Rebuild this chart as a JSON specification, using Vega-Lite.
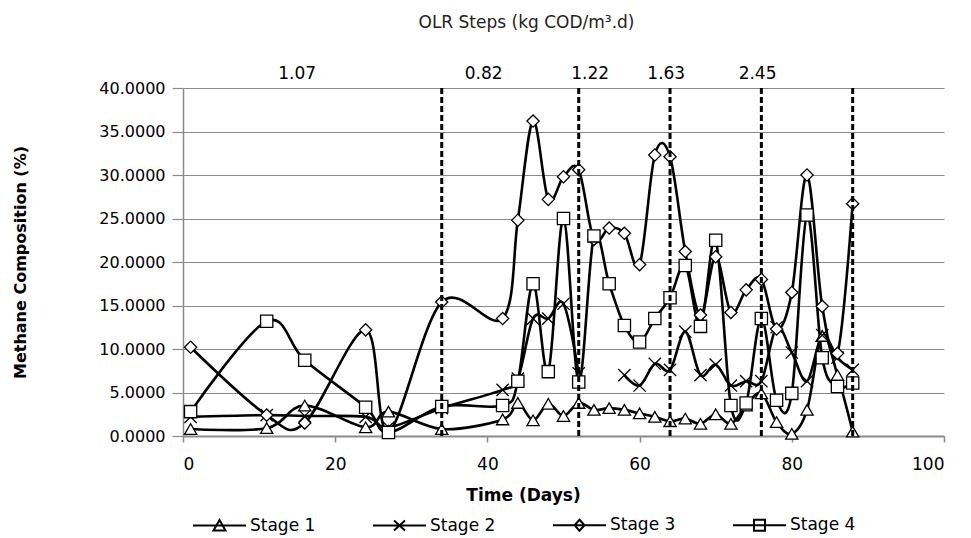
{
  "$schema": "https://vega.github.io/schema/vega-lite/v6.json",
  "width": 761,
  "height": 348,
  "autosize": "none",
  "padding": {"left": 183, "top": 88, "right": 27, "bottom": 102},
  "background": "white",
  "title": {
    "text": "OLR Steps (kg COD/m³.d)",
    "font": "DejaVu Sans",
    "fontSize": 17,
    "fontWeight": "normal",
    "color": "#222222",
    "anchor": "middle",
    "dx": -37,
    "offset": 25,
    "baseline": "middle"
  },
  "config": {"view": {"stroke": null}, "font": "DejaVu Sans"},
  "resolve": {"scale": {"shape": "independent"}, "legend": {"shape": "independent"}},
  "datasets": {
    "olrLines": [{"day": 34}, {"day": 52}, {"day": 64}, {"day": 76}, {"day": 88}],
    "olrLabels": [
      {"day": 15, "label": "1.07"},
      {"day": 39.5, "label": "0.82"},
      {"day": 53.5, "label": "1.22"},
      {"day": 63.5, "label": "1.63"},
      {"day": 75.5, "label": "2.45"}
    ],
    "methane": [
      {"stage": "Stage 1", "day": 1, "v": 0.8}, {"stage": "Stage 1", "day": 11, "v": 0.9}, {"stage": "Stage 1", "day": 16, "v": 3.5}, {"stage": "Stage 1", "day": 24, "v": 1.0}, {"stage": "Stage 1", "day": 27, "v": 2.8}, {"stage": "Stage 1", "day": 34, "v": 0.8}, {"stage": "Stage 1", "day": 42, "v": 1.9}, {"stage": "Stage 1", "day": 44, "v": 3.8}, {"stage": "Stage 1", "day": 46, "v": 1.8}, {"stage": "Stage 1", "day": 48, "v": 3.7}, {"stage": "Stage 1", "day": 50, "v": 2.3}, {"stage": "Stage 1", "day": 52, "v": 3.8}, {"stage": "Stage 1", "day": 54, "v": 3.0}, {"stage": "Stage 1", "day": 56, "v": 3.2}, {"stage": "Stage 1", "day": 58, "v": 3.0}, {"stage": "Stage 1", "day": 60, "v": 2.6}, {"stage": "Stage 1", "day": 62, "v": 2.2}, {"stage": "Stage 1", "day": 64, "v": 1.7}, {"stage": "Stage 1", "day": 66, "v": 2.0}, {"stage": "Stage 1", "day": 68, "v": 1.4}, {"stage": "Stage 1", "day": 70, "v": 2.5}, {"stage": "Stage 1", "day": 72, "v": 1.4}, {"stage": "Stage 1", "day": 74, "v": 3.5}, {"stage": "Stage 1", "day": 76, "v": 4.9}, {"stage": "Stage 1", "day": 78, "v": 1.6}, {"stage": "Stage 1", "day": 80, "v": 0.25}, {"stage": "Stage 1", "day": 82, "v": 3.0}, {"stage": "Stage 1", "day": 84, "v": 11.5}, {"stage": "Stage 1", "day": 86, "v": 7.0}, {"stage": "Stage 1", "day": 88, "v": 0.5},
      {"stage": "Stage 2", "day": 1, "v": 2.2}, {"stage": "Stage 2", "day": 11, "v": 2.4}, {"stage": "Stage 2", "day": 16, "v": 2.3}, {"stage": "Stage 2", "day": 24, "v": 2.2}, {"stage": "Stage 2", "day": 27, "v": 1.0}, {"stage": "Stage 2", "day": 34, "v": 3.2}, {"stage": "Stage 2", "day": 42, "v": 5.3}, {"stage": "Stage 2", "day": 44, "v": 6.6}, {"stage": "Stage 2", "day": 46, "v": 13.5}, {"stage": "Stage 2", "day": 48, "v": 13.5}, {"stage": "Stage 2", "day": 50, "v": 15.2}, {"stage": "Stage 2", "day": 52, "v": 7.2}, {"stage": "Stage 2", "day": 54, "v": null}, {"stage": "Stage 2", "day": 56, "v": null}, {"stage": "Stage 2", "day": 58, "v": 7.0}, {"stage": "Stage 2", "day": 60, "v": 5.8}, {"stage": "Stage 2", "day": 62, "v": 8.3}, {"stage": "Stage 2", "day": 64, "v": 7.6}, {"stage": "Stage 2", "day": 66, "v": 12.0}, {"stage": "Stage 2", "day": 68, "v": 7.0}, {"stage": "Stage 2", "day": 70, "v": 8.2}, {"stage": "Stage 2", "day": 72, "v": 5.8}, {"stage": "Stage 2", "day": 74, "v": 6.3}, {"stage": "Stage 2", "day": 76, "v": 6.3}, {"stage": "Stage 2", "day": 78, "v": 12.5}, {"stage": "Stage 2", "day": 80, "v": 9.6}, {"stage": "Stage 2", "day": 82, "v": 6.3}, {"stage": "Stage 2", "day": 84, "v": 11.6}, {"stage": "Stage 2", "day": 86, "v": 9.0}, {"stage": "Stage 2", "day": 88, "v": 7.6},
      {"stage": "Stage 3", "day": 1, "v": 10.2}, {"stage": "Stage 3", "day": 11, "v": 2.4}, {"stage": "Stage 3", "day": 16, "v": 1.5}, {"stage": "Stage 3", "day": 24, "v": 12.2}, {"stage": "Stage 3", "day": 27, "v": 0.5}, {"stage": "Stage 3", "day": 34, "v": 15.4}, {"stage": "Stage 3", "day": 42, "v": 13.5}, {"stage": "Stage 3", "day": 44, "v": 24.8}, {"stage": "Stage 3", "day": 46, "v": 36.2}, {"stage": "Stage 3", "day": 48, "v": 27.2}, {"stage": "Stage 3", "day": 50, "v": 29.8}, {"stage": "Stage 3", "day": 52, "v": 30.6}, {"stage": "Stage 3", "day": 54, "v": 22.6}, {"stage": "Stage 3", "day": 56, "v": 23.9}, {"stage": "Stage 3", "day": 58, "v": 23.3}, {"stage": "Stage 3", "day": 60, "v": 19.7}, {"stage": "Stage 3", "day": 62, "v": 32.3}, {"stage": "Stage 3", "day": 64, "v": 32.1}, {"stage": "Stage 3", "day": 66, "v": 21.2}, {"stage": "Stage 3", "day": 68, "v": 13.9}, {"stage": "Stage 3", "day": 70, "v": 20.6}, {"stage": "Stage 3", "day": 72, "v": 14.2}, {"stage": "Stage 3", "day": 74, "v": 16.8}, {"stage": "Stage 3", "day": 76, "v": 18.0}, {"stage": "Stage 3", "day": 78, "v": 12.3}, {"stage": "Stage 3", "day": 80, "v": 16.5}, {"stage": "Stage 3", "day": 82, "v": 30.0}, {"stage": "Stage 3", "day": 84, "v": 14.9}, {"stage": "Stage 3", "day": 86, "v": 9.5}, {"stage": "Stage 3", "day": 88, "v": 26.7},
      {"stage": "Stage 4", "day": 1, "v": 2.8}, {"stage": "Stage 4", "day": 11, "v": 13.2}, {"stage": "Stage 4", "day": 16, "v": 8.7}, {"stage": "Stage 4", "day": 24, "v": 3.3}, {"stage": "Stage 4", "day": 27, "v": 0.4}, {"stage": "Stage 4", "day": 34, "v": 3.4}, {"stage": "Stage 4", "day": 42, "v": 3.5}, {"stage": "Stage 4", "day": 44, "v": 6.3}, {"stage": "Stage 4", "day": 46, "v": 17.5}, {"stage": "Stage 4", "day": 48, "v": 7.4}, {"stage": "Stage 4", "day": 50, "v": 25.0}, {"stage": "Stage 4", "day": 52, "v": 6.2}, {"stage": "Stage 4", "day": 54, "v": 23.0}, {"stage": "Stage 4", "day": 56, "v": 17.5}, {"stage": "Stage 4", "day": 58, "v": 12.7}, {"stage": "Stage 4", "day": 60, "v": 10.8}, {"stage": "Stage 4", "day": 62, "v": 13.5}, {"stage": "Stage 4", "day": 64, "v": 15.9}, {"stage": "Stage 4", "day": 66, "v": 19.6}, {"stage": "Stage 4", "day": 68, "v": 12.6}, {"stage": "Stage 4", "day": 70, "v": 22.5}, {"stage": "Stage 4", "day": 72, "v": 3.5}, {"stage": "Stage 4", "day": 74, "v": 3.8}, {"stage": "Stage 4", "day": 76, "v": 13.5}, {"stage": "Stage 4", "day": 78, "v": 4.1}, {"stage": "Stage 4", "day": 80, "v": 4.9}, {"stage": "Stage 4", "day": 82, "v": 25.4}, {"stage": "Stage 4", "day": 84, "v": 9.0}, {"stage": "Stage 4", "day": 86, "v": 5.7}, {"stage": "Stage 4", "day": 88, "v": 6.1}
    ]
  },
  "layer": [
    {
      "data": {"name": "methane"},
      "mark": {"type": "line", "interpolate": "cardinal", "color": "black", "strokeWidth": 2.6, "invalid": "break-paths-filter-domains"},
      "encoding": {
        "x": {
          "field": "day", "type": "quantitative",
          "scale": {"domain": [0, 100], "nice": false},
          "axis": {
            "values": [0, 20, 40, 60, 80, 100],
            "grid": false,
            "domainColor": "#8a8a8a", "domainWidth": 2,
            "tickColor": "#8a8a8a", "tickSize": 6, "tickWidth": 1.5,
            "labelFont": "DejaVu Sans", "labelFontSize": 17, "labelColor": "black", "labelPadding": 14,
            "title": "Time (Days)", "titleFont": "DejaVu Sans", "titleFontSize": 17, "titleFontWeight": "bold", "titleColor": "black",
            "titleX": 340, "titleY": 59, "titleBaseline": "middle", "titleAlign": "center"
          }
        },
        "y": {
          "field": "v", "type": "quantitative",
          "scale": {"domain": [0, 40], "nice": false},
          "axis": {
            "values": [0, 5, 10, 15, 20, 25, 30, 35, 40],
            "format": ".4f",
            "grid": true, "gridColor": "#8a8a8a", "gridWidth": 1.2,
            "domainColor": "#8a8a8a", "domainWidth": 1.5,
            "tickColor": "#8a8a8a", "tickSize": 11, "tickWidth": 1.2,
            "labelFont": "DejaVu Sans", "labelFontSize": 16, "labelColor": "black", "labelPadding": 7,
            "title": "Methane Composition (%)", "titleFont": "DejaVu Sans", "titleFontSize": 16, "titleFontWeight": "bold", "titleColor": "black",
            "titleX": -163, "titleY": 174, "titleBaseline": "middle", "titleAlign": "center"
          }
        },
        "detail": {"field": "stage", "type": "nominal"}
      }
    },
    {
      "data": {"name": "methane"},
      "mark": {"type": "point", "filled": true, "fill": "white", "stroke": "black", "strokeWidth": 1.3, "size": 150, "opacity": 1},
      "encoding": {
        "x": {"field": "day", "type": "quantitative", "scale": {"domain": [0, 100], "nice": false}},
        "y": {"field": "v", "type": "quantitative", "scale": {"domain": [0, 40], "nice": false}},
        "shape": {
          "field": "stage", "type": "nominal",
          "scale": {"domain": ["Stage 1", "Stage 2", "Stage 3", "Stage 4"], "range": ["triangle-up", "M-1,-1L1,1M-1,1L1,-1", "diamond", "square"]},
          "legend": null
        }
      }
    },
    {
      "data": {"name": "methane"},
      "transform": [{"filter": "false"}],
      "mark": {"type": "point", "filled": false, "color": "black", "strokeWidth": 2, "size": 400, "opacity": 1},
      "encoding": {
        "x": {"field": "day", "type": "quantitative", "scale": {"domain": [0, 100], "nice": false}},
        "y": {"field": "v", "type": "quantitative", "scale": {"domain": [0, 40], "nice": false}},
        "shape": {
          "field": "stage", "type": "nominal",
          "scale": {
            "domain": ["Stage 1", "Stage 2", "Stage 3", "Stage 4"],
            "range": [
              "M-1,0L4.3,0M1.65,-0.55L2.25,0.5L1.05,0.5Z",
              "M-1,0L4.3,0M1.1,-0.5L2.2,0.5M1.1,0.5L2.2,-0.5",
              "M-1,0L4.3,0M1.65,-0.55L2.15,0L1.65,0.55L1.15,0Z",
              "M-1,0L4.3,0M1.1,-0.55L2.2,-0.55L2.2,0.55L1.1,0.55Z"
            ]
          },
          "legend": {
            "orient": "none", "legendX": 9, "legendY": 426,
            "direction": "horizontal", "title": null,
            "labelFont": "DejaVu Sans", "labelFontSize": 17, "labelColor": "black",
            "symbolSize": 400, "symbolStrokeWidth": 2,
            "labelOffset": 36, "columnPadding": 53
          }
        }
      }
    },
    {
      "data": {"name": "olrLines"},
      "mark": {"type": "rule", "color": "black", "strokeWidth": 3, "strokeDash": [6, 3]},
      "encoding": {
        "x": {"field": "day", "type": "quantitative", "scale": {"domain": [0, 100], "nice": false}},
        "y": {"datum": 0, "type": "quantitative", "scale": {"domain": [0, 40], "nice": false}},
        "y2": {"datum": 40}
      }
    },
    {
      "data": {"name": "olrLabels"},
      "mark": {"type": "text", "font": "DejaVu Sans", "fontSize": 17, "color": "black", "baseline": "middle", "align": "center"},
      "encoding": {
        "x": {"field": "day", "type": "quantitative", "scale": {"domain": [0, 100], "nice": false}},
        "y": {"datum": 41.6, "type": "quantitative", "scale": {"domain": [0, 40], "nice": false}},
        "text": {"field": "label"}
      }
    }
  ]
}
